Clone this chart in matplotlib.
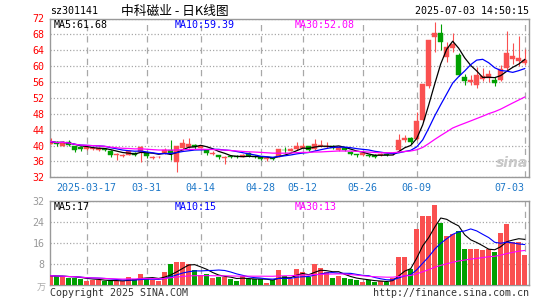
import numpy as np
import pandas as pd
import matplotlib
matplotlib.use("Agg")
import matplotlib.pyplot as plt
from matplotlib.patches import Rectangle

plt.rcParams["font.family"] = ["DejaVu Sans Mono", "Noto Sans CJK SC"]

# ---- data ----
holidays = ["2025-04-04", "2025-05-01", "2025-05-02", "2025-05-05", "2025-06-02"]
dates = pd.bdate_range("2025-03-07", "2025-07-03")
dates = dates[~dates.isin(pd.to_datetime(holidays))]

opens = [40.5, 40.9, 40.0, 40.8, 39.8, 39.6, 39.2, 39.2, 39.0, 39.2,
         38.6, 37.5, 37.4, 37.7, 38.2, 38.3, 38.1, 36.9, 37.0, 38.1,
         39.0, 35.8, 39.3, 39.7, 40.2, 39.5, 38.8, 37.9, 37.6, 36.9,
         37.4, 37.3, 37.1, 38.0, 37.4, 37.2, 36.6, 36.8, 37.2, 39.0,
         38.7, 39.1, 39.5, 39.9, 39.2, 39.8, 39.6, 40.0, 38.9, 39.4,
         38.4, 37.8, 37.5, 37.7, 37.7, 37.6, 37.9, 37.8, 38.8, 41.3,
         41.9, 41.7, 46.5, 55.0, 67.4, 68.3, 62.3, 64.6, 62.9, 57.3,
         56.0, 55.2, 56.8, 56.9, 56.6, 56.5, 59.6, 61.9, 61.2, 60.8]
closes = [41.0, 40.5, 40.9, 40.2, 39.0, 39.1, 39.6, 39.5, 39.4, 38.8,
          37.5, 37.8, 37.7, 38.6, 37.7, 39.6, 37.3, 37.2, 37.2, 39.0,
          38.0, 39.8, 40.6, 40.4, 39.6, 39.9, 38.0, 38.1, 37.0, 37.2,
          37.0, 37.1, 37.7, 37.4, 37.0, 36.6, 36.8, 36.6, 39.1, 38.8,
          39.1, 39.9, 39.8, 38.8, 40.5, 40.1, 39.9, 39.4, 39.6, 38.8,
          37.8, 37.5, 38.0, 37.3, 37.1, 37.9, 37.6, 38.2, 41.5, 42.0,
          40.8, 46.3, 55.5, 66.6, 68.3, 66.1, 64.8, 65.6, 57.7, 56.2,
          56.6, 57.8, 57.5, 57.9, 55.7, 59.2, 63.2, 62.5, 62.0, 61.5]
highs = [41.8, 41.1, 41.2, 41.3, 40.0, 40.0, 39.8, 39.7, 39.6, 39.4,
         38.8, 38.0, 37.9, 38.9, 38.4, 39.9, 38.3, 37.4, 37.4, 39.4,
         41.3, 40.0, 41.7, 41.8, 40.4, 40.2, 39.1, 38.5, 37.7, 37.4,
         37.6, 37.6, 37.8, 38.3, 37.6, 37.3, 37.0, 37.0, 39.2, 39.6,
         39.3, 40.9, 40.6, 40.0, 41.6, 41.3, 41.0, 40.2, 39.8, 39.5,
         38.5, 37.9, 38.2, 37.9, 37.8, 38.0, 38.1, 38.4, 42.9, 42.6,
         42.1, 48.4, 55.5, 66.6, 71.1, 70.5, 66.2, 68.3, 63.3, 58.0,
         57.8, 59.8, 59.5, 59.0, 57.2, 60.2, 68.8, 65.9, 67.6, 64.2]
lows = [40.3, 40.0, 39.9, 40.0, 38.4, 38.6, 39.0, 38.9, 38.5, 38.6,
        37.2, 36.4, 37.0, 37.5, 37.3, 35.8, 36.8, 36.7, 36.9, 37.9,
        36.3, 33.3, 39.0, 39.4, 39.2, 39.3, 37.6, 37.5, 36.7, 35.3,
        36.8, 36.8, 37.0, 37.2, 36.8, 36.4, 36.2, 36.4, 37.0, 38.0,
        38.5, 38.9, 39.3, 38.6, 39.0, 39.6, 39.4, 39.2, 38.7, 38.6,
        37.6, 37.2, 37.3, 37.1, 36.9, 37.4, 37.4, 37.6, 38.6, 40.9,
        40.4, 41.5, 46.0, 54.5, 63.5, 64.0, 61.0, 63.5, 57.4, 55.3,
        55.2, 54.6, 56.3, 56.0, 54.9, 56.3, 59.0, 60.5, 60.0, 60.3]
volumes = [3.7, 3.4, 3.4, 3.0, 3.0, 2.4, 1.6, 2.2, 2.2, 1.6,
           1.6, 1.6, 1.6, 3.2, 2.4, 4.2, 2.8, 2.2, 1.6, 5.0,
           8.2, 8.8, 8.8, 8.0, 5.7, 3.9, 4.2, 2.7, 3.2, 3.2,
           2.4, 1.6, 3.4, 2.4, 2.4, 2.4, 1.1, 1.9, 5.7, 3.4,
           2.5, 6.1, 5.0, 3.3, 8.0, 6.5, 5.2, 3.0, 3.4, 3.0,
           2.3, 2.2, 1.3, 1.9, 1.4, 1.5, 1.3, 3.0, 10.7, 10.7,
           6.2, 21.3, 26.4, 26.4, 30.5, 23.6, 18.8, 19.6, 20.6, 13.7,
           14.0, 13.7, 13.5, 14.0, 12.6, 19.8, 23.2, 16.6, 16.6, 11.4]

tick_dates = ["2025-03-17", "2025-03-31", "2025-04-14", "2025-04-28",
              "2025-05-12", "2025-05-26", "2025-06-09", "2025-07-03"]
tick_labels = ["2025-03-17", "03-31", "04-14", "04-28", "05-12", "05-26", "06-09", "07-03"]
price_ma_text = ["MA5:61.68", "MA10:59.39", "MA30:52.08"]
vol_ma_text = ["MA5:17", "MA10:15", "MA30:13"]

df = pd.DataFrame({"open": opens, "close": closes, "high": highs,
                   "low": lows, "volume": volumes}, index=dates)
n = len(df)
x = np.arange(n)
tick_idx = [dates.get_loc(pd.Timestamp(d)) for d in tick_dates]

RED, GREEN = "#fa5050", "#00a000"
MA_COLORS = ["black", "#0000ff", "#ff00ff"]
GRID = "#a8a8a8"
W, H = 545, 300


def box(l, t, r, b):
    return [l / W, 1 - b / H, (r - l) / W, (b - t) / H]


def ptext(px, py, s, **kw):
    fig.text(px / W, 1 - py / H, s, **kw)


fig = plt.figure(figsize=(W / 100, H / 100), dpi=100)
ax = fig.add_axes(box(50, 18.5, 528.5, 177.3))
axv = fig.add_axes(box(50, 201.3, 528.5, 285.4))

colors = [RED if c >= o else GREEN for o, c in zip(df["open"], df["close"])]

# candles
for i, (o, c, h, l) in enumerate(zip(df["open"], df["close"], df["high"], df["low"])):
    col = colors[i]
    ax.plot([i, i], [l, h], color=col, lw=0.8, zorder=3, solid_capstyle="butt")
    lo, hi = min(o, c), max(o, c)
    ax.add_patch(Rectangle((i - 0.38, lo), 0.76, max(hi - lo, 0.12),
                           facecolor=col, edgecolor=col, lw=0.3, zorder=4))

for win, col in zip([5, 10, 30], MA_COLORS):
    ax.plot(x, df["close"].rolling(win, min_periods=1).mean(), color=col, lw=0.9, zorder=5)
    axv.plot(x, df["volume"].rolling(win, min_periods=1).mean(), color=col, lw=0.8, zorder=5)

axv.bar(x, df["volume"], width=0.85, color=colors, zorder=3)

for a in (ax, axv):
    a.set_xlim(-0.12, 79.63)
    for s in a.spines.values():
        s.set_color("#999999")
        s.set_linewidth(1)
    a.set_xticks(tick_idx)
    a.xaxis.grid(True, color=GRID, linestyle=(0, (5, 4)), lw=0.9, zorder=1)
    a.yaxis.grid(True, color=GRID, linestyle=(0, (1, 1.6)), lw=0.9, zorder=1)
    a.set_axisbelow(True)
    a.tick_params(length=0, labelsize=7.2, pad=4)

ax.set_ylim(32, 72)
ax.set_yticks(range(32, 73, 4))
ax.tick_params(axis="y", labelcolor="#ff0000")
ax.set_xticklabels(tick_labels, color="#1e78c8")
ax.tick_params(axis="x", pad=4)
ax.get_xticklabels()[-1].set_horizontalalignment("right")

axv.set_ylim(0, 32)
axv.set_yticks([8, 16, 24, 32])
axv.tick_params(axis="y", labelcolor="#999999")
axv.set_xticklabels([])

# header and labels
ptext(50, 11, "sz301141", fontsize=7.2, va="center")
ptext(121, 11, "中科磁业 - 日K线图", fontsize=9.2, va="center",
      family=["Noto Sans CJK SC", "DejaVu Sans"])
ptext(529, 11, "2025-07-03 14:50:15", fontsize=7.2, va="center", ha="right")

for px_, s, col in zip([54, 174.5, 295], price_ma_text, MA_COLORS):
    ptext(px_, 24.5, s, fontsize=7.2, va="center", color=col)
for px_, s, col in zip([54, 174.5, 295], vol_ma_text, MA_COLORS):
    ptext(px_, 206.5, s, fontsize=7.2, va="center", color=col)

ptext(46, 288, "万", fontsize=6.5, va="center", ha="right", color="#aaaaaa",
      family=["Noto Sans CJK SC"])
ptext(50, 292.5, "Copyright 2025 SINA.COM", fontsize=7.2, va="center", color="#333333")
ptext(528.5, 292.5, "http://finance.sina.com.cn", fontsize=7.2, va="center",
      ha="right", color="#333333")
ptext(512, 163, "sina", fontsize=10, va="center", ha="center", color="#c8c8c8",
      fontweight="bold", style="italic", family=["DejaVu Sans"])

fig.savefig("out.png", dpi=100)
